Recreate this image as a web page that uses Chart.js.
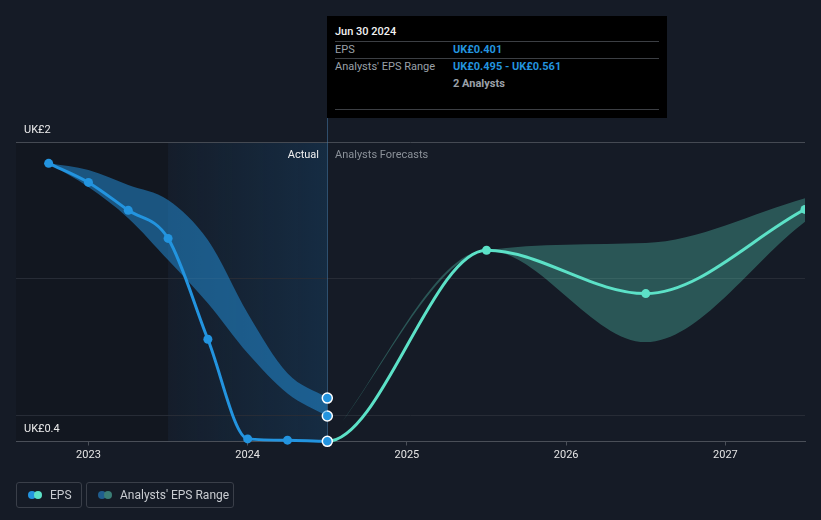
<!DOCTYPE html>
<html><head><meta charset="utf-8">
<script src="https://cdn.jsdelivr.net/npm/chart.js@4/dist/chart.umd.min.js"></script>
<style>
html,body{margin:0;padding:0;background:#151b26;}
#wrap{position:relative;width:821px;height:520px;overflow:hidden;font-family:Roboto,"Noto Sans",sans-serif;}
#c{position:absolute;left:0;top:0;}
.tip{position:absolute;left:327px;top:16px;width:340px;height:102px;background:#000;}
.tip .t{position:absolute;left:8px;font-size:11px;line-height:13px;white-space:nowrap;}
.tip .hr{position:absolute;left:8px;width:324px;height:1px;background:#3c3f44;}
.lbl{position:absolute;font-size:11px;line-height:13px;white-space:nowrap;}
.leg{position:absolute;top:482px;height:26px;border:1px solid #3a3f49;border-radius:3px;box-sizing:border-box;}
.leg .d{position:absolute;top:8px;width:8px;height:8px;border-radius:50%;}
.leg .tx{position:absolute;top:5px;font-size:12px;line-height:14px;color:#c9ccd1;white-space:nowrap;}
</style></head><body>
<div id="wrap">
<canvas id="c" width="821" height="520"></canvas>
<div class="tip">
  <div class="t" style="top:9px;color:#f2f2f2;font-weight:500;">Jun 30 2024</div>
  <div class="hr" style="top:25px;"></div>
  <div class="t" style="top:27px;color:#9ba1a9;">EPS</div>
  <div class="t" style="top:27px;left:126px;color:#2394df;font-weight:700;">UK£0.401</div>
  <div class="hr" style="top:42px;"></div>
  <div class="t" style="top:44px;color:#9ba1a9;">Analysts' EPS Range</div>
  <div class="t" style="top:44px;left:126px;color:#2394df;font-weight:700;">UK£0.495 - UK£0.561</div>
  <div class="t" style="top:61px;left:126px;color:#9ba1a9;font-weight:700;">2 Analysts</div>
  <div class="hr" style="top:93px;"></div>
</div>
<div class="lbl" style="right:502px;top:148px;color:#f0f0f0;">Actual</div>
<div class="lbl" style="left:335px;top:148px;color:#8b9199;">Analysts Forecasts</div>
<div class="leg" style="left:16px;width:66px;">
  <div class="d" style="left:11px;background:#2394df;"></div>
  <div class="d" style="left:17px;background:#5ce1c7;"></div>
  <div class="tx" style="left:33px;">EPS</div>
</div>
<div class="leg" style="left:86px;width:148px;">
  <div class="d" style="left:11px;background:#1f5d8e;"></div>
  <div class="d" style="left:17px;background:#3a7d75;"></div>
  <div class="tx" style="left:33px;">Analysts' EPS Range</div>
</div>
</div>
<script>
// ---- data ----
const actualDates      = [2022.75, 2023.0, 2023.25, 2023.5, 2023.75, 2024.0, 2024.25, 2024.5];
const actualEps        = [1.886, 1.784, 1.635, 1.485, 0.946, 0.414, 0.407, 0.401];
const actualRangeHigh  = [1.886, 1.850, 1.770, 1.690, 1.476, 1.085, 0.764, 0.632];
const actualRangeLow   = [1.886, 1.759, 1.593, 1.369, 1.138, 0.871, 0.657, 0.536];
const forecastDates    = [2024.5, 2025.5, 2026.5, 2027.5];
const forecastEps      = [0.401, 1.422, 1.190, 1.640];
const forecastHigh     = [0.401, 1.422, 1.460, 1.699];
const forecastLow      = [0.401, 1.422, 0.931, 1.574];
const yearTicks        = [2023, 2024, 2025, 2026, 2027];
const yTickValues      = [0.4, 0.54, 1.27, 2];
const yTickLabels      = ['UK£0.4', '', '', 'UK£2'];
const pastRegionEnd    = 2023.5;   // start of highlighted "Actual" window
const lastActual       = 2024.5;
const xMin = 2022.545, xMax = 2027.5, yMin = 0.4, yMax = 2;

const BLUE = '#2394df', TEAL = '#5ce1c7';
const pts = (xs, ys) => xs.map((x, i) => ({x, y: ys[i]}));
const epsDates = actualDates.concat(forecastDates.slice(1));
const epsVals  = actualEps.concat(forecastEps.slice(1));
const nAct = actualDates.length;
const clip = {left: 10, top: 10, right: 0, bottom: 10};

const shade = {
  id: 'shade',
  beforeDraw(chart) {
    const {ctx, chartArea: a, scales: {x}} = chart;
    const x0 = x.getPixelForValue(pastRegionEnd), x1 = x.getPixelForValue(lastActual);
    ctx.save();
    ctx.fillStyle = 'rgba(0,0,0,0.14)';
    ctx.fillRect(a.left, a.top, x0 - a.left, a.bottom - a.top);
    const g = ctx.createLinearGradient(x0, 0, x1, 0);
    g.addColorStop(0, 'rgba(25,105,170,0.04)');
    g.addColorStop(1, 'rgba(25,105,170,0.22)');
    ctx.fillStyle = g;
    ctx.fillRect(x0, a.top, x1 - x0, a.bottom - a.top);
    ctx.restore();
  },
  beforeDatasetsDraw(chart) {
    const {ctx, chartArea: a, scales: {x}} = chart;
    const x1 = Math.round(x.getPixelForValue(lastActual)) + 0.5;
    ctx.save();
    ctx.strokeStyle = 'rgba(70,120,165,0.55)';
    ctx.lineWidth = 1;
    ctx.beginPath(); ctx.moveTo(x1, 118); ctx.lineTo(x1, a.bottom); ctx.stroke();
    ctx.restore();
  }
};

new Chart(document.getElementById('c'), {
  type: 'line',
  data: {
    datasets: [
      {
        label: 'EPS',
        data: pts(epsDates, epsVals),
        borderWidth: 3,
        borderColor: BLUE,
        segment: { borderColor: c => c.p0DataIndex >= nAct - 1 ? TEAL : BLUE },
        cubicInterpolationMode: 'monotone',
        pointRadius: epsVals.map((v, i) => i === nAct - 1 ? 5 : 4.5),
        pointBackgroundColor: epsVals.map((v, i) => i < nAct ? BLUE : TEAL),
        pointBorderColor: epsVals.map((v, i) => i === nAct - 1 ? '#ffffff' : 'rgba(0,0,0,0)'),
        pointBorderWidth: epsVals.map((v, i) => i === nAct - 1 ? 1.5 : 0),
        fill: false, clip
      },
      {
        label: 'Range high',
        data: pts(actualDates, actualRangeHigh),
        borderWidth: 0, borderColor: 'rgba(0,0,0,0)',
        backgroundColor: 'rgba(35,148,223,0.5)',
        fill: '+1', cubicInterpolationMode: 'monotone',
        pointRadius: actualDates.map((v, i) => i === nAct - 1 ? 5 : 0),
        pointBackgroundColor: BLUE, pointBorderColor: '#ffffff', pointBorderWidth: 1.5, clip
      },
      {
        label: 'Range low',
        data: pts(actualDates, actualRangeLow),
        borderWidth: 0, borderColor: 'rgba(0,0,0,0)',
        fill: false, cubicInterpolationMode: 'monotone',
        pointRadius: actualDates.map((v, i) => i === nAct - 1 ? 5 : 0),
        pointBackgroundColor: BLUE, pointBorderColor: '#ffffff', pointBorderWidth: 1.5, clip
      },
      {
        label: 'Forecast high',
        data: pts(forecastDates, forecastHigh),
        borderWidth: 0, borderColor: 'rgba(0,0,0,0)',
        backgroundColor: 'rgba(92,225,199,0.3)',
        fill: '+1', cubicInterpolationMode: 'monotone', pointRadius: 0, clip
      },
      {
        label: 'Forecast low',
        data: pts(forecastDates, forecastLow),
        borderWidth: 0, borderColor: 'rgba(0,0,0,0)',
        fill: false, cubicInterpolationMode: 'monotone', pointRadius: 0, clip
      }
    ]
  },
  options: {
    responsive: false, maintainAspectRatio: false, animation: false,
    layout: { padding: { left: 16, right: 16, top: 142, bottom: 38.5 } },
    plugins: { legend: { display: false }, tooltip: { enabled: false } },
    scales: {
      x: {
        type: 'linear', min: xMin, max: xMax,
        afterBuildTicks: s => { s.ticks = yearTicks.map(v => ({value: v})); },
        afterFit: s => { s.height = 40; s.paddingLeft = 0; s.paddingRight = 0; },
        ticks: { color: '#e4e4e4', font: {family: 'Roboto', size: 11}, padding: 3,
                 autoSkip: false, maxRotation: 0, callback: v => String(v) },
        grid: { drawOnChartArea: false, drawTicks: true, tickLength: 4, color: '#4a4f58' },
        border: { display: true, color: '#4a4f58' }
      },
      y: {
        type: 'linear', min: yMin, max: yMax,
        afterBuildTicks: s => { s.ticks = yTickValues.map(v => ({value: v})); },
        afterFit: s => { s.width = 0; },
        ticks: { mirror: true, padding: 8, labelOffset: -12, color: '#ececec',
                 font: {family: 'Roboto', size: 11}, callback: (v, i) => yTickLabels[i] },
        grid: { drawTicks: false, lineWidth: 1,
                color: c => (c.tick && (c.tick.value === yMax || c.tick.value === yMin)) ? '#454a53' : '#272c36' },
        border: { display: false }
      }
    }
  },
  plugins: [shade]
});
</script>
</body></html>
